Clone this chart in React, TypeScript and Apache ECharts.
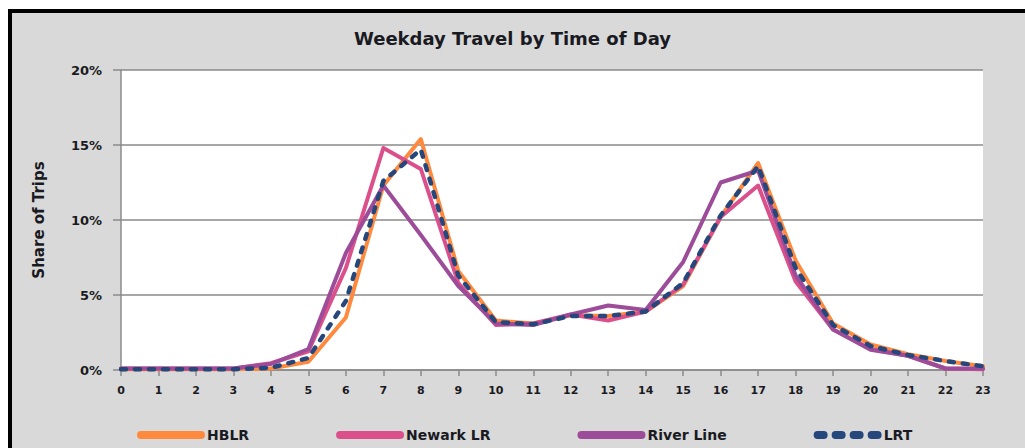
import React, { useEffect, useRef } from "react";
import * as echarts from "echarts";

const hours = ["0","1","2","3","4","5","6","7","8","9","10","11","12","13","14","15","16","17","18","19","20","21","22","23"];
const hblr = [0.05, 0.05, 0.05, 0.05, 0.1, 0.55, 3.5, 12.3, 15.4, 6.6, 3.3, 3.1, 3.65, 3.6, 3.9, 5.6, 10.2, 13.8, 7.3, 3.1, 1.7, 1.05, 0.6, 0.25];
const newarkLR = [0.1, 0.1, 0.1, 0.1, 0.45, 1.25, 6.8, 14.8, 13.4, 5.8, 3.0, 3.1, 3.7, 3.3, 3.9, 5.7, 10.2, 12.3, 5.9, 2.7, 1.4, 0.95, 0.1, 0.05];
const riverLine = [0.1, 0.1, 0.1, 0.1, 0.4, 1.4, 7.8, 12.3, 9.0, 5.6, 3.1, 3.0, 3.7, 4.3, 4.0, 7.2, 12.5, 13.3, 6.3, 2.7, 1.35, 0.95, 0.1, 0.1];
const lrt = [0.05, 0.05, 0.05, 0.05, 0.15, 0.8, 4.6, 12.6, 14.7, 6.3, 3.2, 3.05, 3.6, 3.6, 3.9, 5.8, 10.3, 13.6, 6.8, 3.0, 1.6, 1.0, 0.6, 0.25];
const yTicks = { min: 0, max: 20, interval: 5 };

const FONT = "DejaVu Sans";
const TXT = "#1a1a22";

const capsule = "path://M4,0 H64 A4,4 0 0 1 64,8 H4 A4,4 0 0 1 4,0 Z";
const dots = (() => {
  let d = "path://";
  for (let i = 0; i < 4; i++) {
    const x0 = i * 18;
    d += `M${x0 + 4},0 H${x0 + 10} A4,4 0 0 1 ${x0 + 10},8 H${x0 + 4} A4,4 0 0 1 ${x0 + 4},0 Z `;
  }
  return d.trim();
})();

export default function App() {
  const ref = useRef<HTMLDivElement>(null);
  useEffect(() => {
    if (!ref.current) return;
    const chart = echarts.init(ref.current, null, { renderer: "svg" });
    const mk = (name: string, data: number[], color: string, extra: any = {}) => ({
      name,
      type: "line",
      data,
      symbol: "none",
      showSymbol: false,
      itemStyle: { color },
      lineStyle: { color, width: 4, cap: "round", join: "round", ...extra },
    });
    chart.setOption({
      animation: false,
      backgroundColor: "transparent",
      title: {
        text: "Weekday Travel by Time of Day",
        left: "center",
        top: 29,
        padding: [0, 0, 0, 5],
        textStyle: { fontFamily: FONT, fontWeight: "bold", fontSize: 18, color: TXT },
      },
      grid: {
        left: 121,
        top: 70,
        right: 42,
        bottom: 78,
        show: true,
        backgroundColor: "#ffffff",
        borderWidth: 0,
      },
      legend: {
        left: 132,
        top: 423,
        itemWidth: 68,
        itemHeight: 8,
        itemGap: 87,
        textStyle: { fontFamily: FONT, fontWeight: "bold", fontSize: 14, color: TXT, padding: [0, 0, 0, -3] },
        data: [
          { name: "HBLR", icon: capsule },
          { name: "Newark LR", icon: capsule },
          { name: "River Line", icon: capsule },
          { name: "LRT", icon: dots },
        ],
      },
      xAxis: {
        type: "category",
        data: hours,
        boundaryGap: false,
        axisLine: { lineStyle: { color: "#8a8a8a", width: 1.5 } },
        axisTick: { show: true, interval: 0, length: 6, lineStyle: { color: "#8a8a8a", width: 1.5 } },
        axisLabel: { interval: 0, margin: 15, fontFamily: FONT, fontWeight: "bold", fontSize: 11, color: TXT },
        splitLine: { show: false },
      },
      yAxis: {
        type: "value",
        min: yTicks.min,
        max: yTicks.max,
        interval: yTicks.interval,
        name: "Share of Trips",
        nameLocation: "middle",
        nameGap: 75,
        nameTextStyle: { fontFamily: FONT, fontWeight: "bold", fontSize: 15, color: TXT },
        axisLine: { show: true, lineStyle: { color: "#8a8a8a", width: 1.5 } },
        axisTick: { show: true, length: 8, lineStyle: { color: "#8a8a8a", width: 1.5 } },
        axisLabel: { margin: 19, formatter: "{value}%", fontFamily: FONT, fontWeight: "bold", fontSize: 13, color: TXT },
        splitLine: { show: true, lineStyle: { color: "#8a8a8a", width: 1.7 } },
      },
      series: [
        mk("HBLR", hblr, "#FF8A3D"),
        mk("Newark LR", newarkLR, "#DB4F8A"),
        mk("River Line", riverLine, "#9C4C98"),
        mk("LRT", lrt, "#25477B", { width: 4.5, type: [5, 9], cap: "round" }),
      ],
    });
    return () => chart.dispose();
  }, []);

  return (
    <div style={{ position: "absolute", left: 0, top: 0, width: 1025, height: 448, background: "#ffffff", overflow: "hidden" }}>
      <div style={{ position: "absolute", left: 8, top: 9, right: 0, bottom: 0, background: "#000000" }} />
      <div style={{ position: "absolute", left: 12, top: 13, right: 0, bottom: 0, background: "#D9D9D9" }} />
      <div ref={ref} style={{ position: "absolute", left: 0, top: 0, width: 1025, height: 448 }} />
    </div>
  );
}
